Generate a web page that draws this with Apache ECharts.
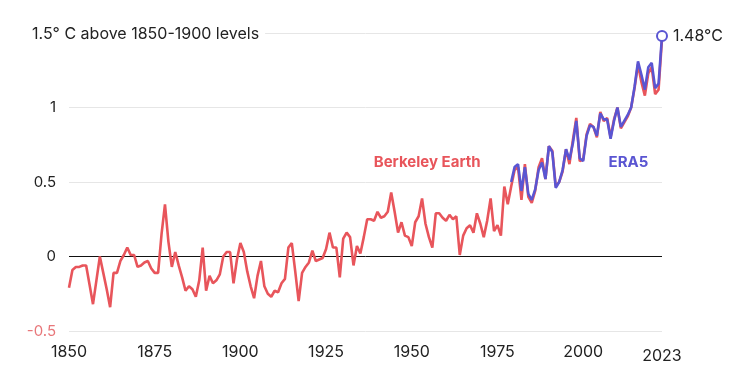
<!DOCTYPE html>
<html><head><meta charset="utf-8">
<script src="https://cdn.jsdelivr.net/npm/echarts@6/dist/echarts.min.js"></script>
<style>html,body{margin:0;padding:0;background:#fff}#c{width:748px;height:369px}</style>
</head><body><div id="c"></div>
<script>
// Berkeley Earth annual anomaly (°C above 1850-1900), 1850..2023
const berkeleyStart = 1850;
const berkeleyValues = [
  -0.21,-0.09,-0.07,-0.07,-0.06,-0.06,-0.19,-0.32,-0.16,0.00,   // 1850-1859
  -0.11,-0.22,-0.34,-0.11,-0.11,-0.03,0.01,0.06,0.01,0.01,      // 1860-1869
  -0.07,-0.06,-0.04,-0.03,-0.08,-0.11,-0.11,0.15,0.35,0.10,     // 1870-1879
  -0.07,0.03,-0.06,-0.14,-0.23,-0.20,-0.22,-0.27,-0.16,0.06,    // 1880-1889
  -0.23,-0.13,-0.18,-0.16,-0.12,0.00,0.03,0.03,-0.18,-0.02,     // 1890-1899
  0.09,0.03,-0.10,-0.20,-0.28,-0.13,-0.03,-0.20,-0.25,-0.27,    // 1900-1909
  -0.23,-0.24,-0.18,-0.15,0.06,0.09,-0.10,-0.30,-0.11,-0.07,    // 1910-1919
  -0.04,0.04,-0.03,-0.02,-0.01,0.05,0.16,0.06,0.06,-0.14,       // 1920-1929
  0.12,0.16,0.13,-0.06,0.07,0.02,0.13,0.25,0.25,0.24,           // 1930-1939
  0.30,0.26,0.27,0.30,0.43,0.30,0.16,0.23,0.14,0.13,            // 1940-1949
  0.07,0.23,0.27,0.39,0.22,0.13,0.06,0.29,0.29,0.26,            // 1950-1959
  0.24,0.28,0.25,0.27,0.01,0.14,0.19,0.21,0.16,0.29,            // 1960-1969
  0.22,0.13,0.24,0.39,0.17,0.21,0.14,0.47,0.35,0.47,            // 1970-1979
  0.58,0.60,0.38,0.62,0.40,0.36,0.44,0.60,0.66,0.52,            // 1980-1989
  0.74,0.71,0.47,0.50,0.57,0.72,0.62,0.78,0.93,0.64,            // 1990-1999
  0.65,0.82,0.89,0.87,0.80,0.97,0.91,0.93,0.80,0.92,            // 2000-2009
  1.00,0.86,0.90,0.94,1.00,1.13,1.29,1.17,1.08,1.23,            // 2010-2019
  1.27,1.09,1.12,1.46                                           // 2020-2023
];
// ERA5 annual anomaly (°C above 1850-1900), 1979..2023
const era5Start = 1979;
const era5Values = [
  0.50,                                                         // 1979
  0.60,0.62,0.44,0.60,0.42,0.38,0.45,0.58,0.63,0.52,            // 1980-1989
  0.74,0.70,0.46,0.50,0.58,0.72,0.65,0.76,0.91,0.66,            // 1990-1999
  0.64,0.81,0.88,0.87,0.81,0.96,0.92,0.92,0.79,0.91,            // 2000-2009
  1.00,0.87,0.91,0.95,1.00,1.14,1.31,1.22,1.12,1.27,            // 2010-2019
  1.30,1.13,1.16,1.48                                           // 2020-2023
];
const xTickValues = [1850, 1875, 1900, 1925, 1950, 1975, 2000, 2023];
const yTickValues = [-0.5, 0, 0.5, 1, 1.5];
const titleText = '1.5° C above 1850-1900 levels';
const endLabelText = '1.48°C';
const seriesNames = ['Berkeley Earth', 'ERA5'];

const RED = '#e8555b', BLUE = '#5a55d2';
const berkeleyData = berkeleyValues.map((v, i) => [berkeleyStart + i, v]);
const era5Data = era5Values.map((v, i) => [era5Start + i, v]);
const lastIdx = era5Data.length - 1;

const chart = echarts.init(document.getElementById('c'), null, {renderer: 'canvas'});
const FONT = 'Inter, "Noto Sans", sans-serif';
chart.setOption({
  animation: false,
  backgroundColor: '#fff',
  textStyle: {fontFamily: FONT},
  title: {
    text: titleText, left: 26, top: 24,
    backgroundColor: '#fff', padding: [2, 6, 2, 6],
    textStyle: {fontFamily: FONT, fontSize: 16, fontWeight: 'normal', color: '#222'}
  },
  grid: {left: 69, right: 86, top: 33, bottom: 38, containLabel: false},
  xAxis: {
    type: 'value', min: 1850, max: 2023,
    axisLine: {show: false}, axisTick: {show: false}, splitLine: {show: false},
    axisLabel: {
      customValues: xTickValues, margin: 13, fontSize: 16, color: '#222', fontFamily: FONT,
      formatter: v => v === 2023 ? '{b|' + v + '}' : String(v),
      rich: {b: {fontSize: 16, color: '#222', fontFamily: FONT, padding: [4, 0, 0, 0]}}
    }
  },
  yAxis: {
    type: 'value', min: -0.5, max: 1.5, interval: 0.5,
    axisLine: {show: false}, axisTick: {show: false},
    splitLine: {show: true, lineStyle: {color: ['#e6e6e6', '#111', '#e6e6e6', '#e6e6e6', '#e6e6e6'], width: 1}},
    axisLabel: {
      margin: 13, fontSize: 15, fontFamily: FONT,
      color: v => (Number(v) < 0 ? '#e8777a' : '#222'),
      formatter: v => (v === 1.5 ? '' : String(v))
    }
  },
  series: [
    {
      name: seriesNames[0], type: 'line', data: berkeleyData, showSymbol: false, symbol: 'none',
      lineStyle: {color: RED, width: 2.6}, itemStyle: {color: RED}, z: 2,
      markPoint: {
        symbol: 'circle', symbolSize: 0,
        label: {show: true, formatter: seriesNames[0], color: RED, fontSize: 15, fontWeight: 'bold', fontFamily: FONT},
        data: [{coord: [1954.5, 0.63]}]
      }
    },
    {
      name: seriesNames[1], type: 'line', data: era5Data,
      showSymbol: true, symbol: 'circle', symbolSize: (val, p) => (p.dataIndex === lastIdx ? 10 : 0),
      lineStyle: {color: BLUE, width: 2.6},
      itemStyle: {color: '#fff', borderColor: BLUE, borderWidth: 2}, z: 3,
      label: {
        show: true, position: 'right', distance: 5, fontSize: 16, color: '#222', fontFamily: FONT,
        formatter: p => (p.dataIndex === lastIdx ? endLabelText : '')
      },
      markPoint: {
        symbol: 'circle', symbolSize: 0,
        label: {show: true, formatter: seriesNames[1], color: BLUE, fontSize: 15, fontWeight: 'bold', fontFamily: FONT},
        data: [{coord: [2013.2, 0.63]}]
      }
    }
  ]
});
</script></body></html>
